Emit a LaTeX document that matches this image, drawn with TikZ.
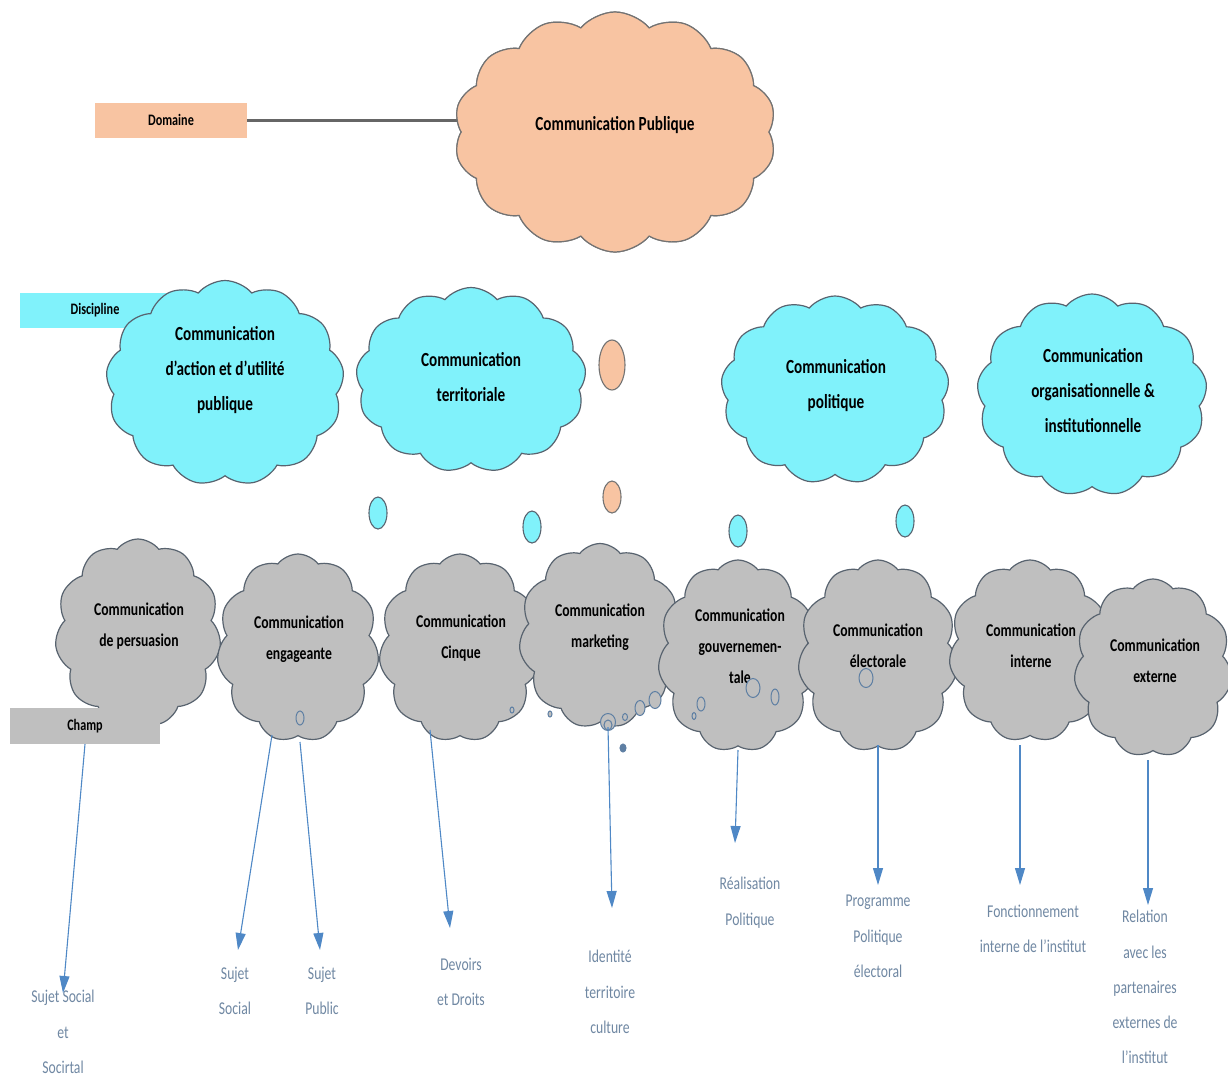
\documentclass[tikz,border=0pt]{standalone}
\usepackage{fontspec}
\setmainfont{Carlito}
\newfontfamily\narrow[FakeStretch=0.76]{Carlito}
\usetikzlibrary{shapes.symbols,shapes.geometric,arrows.meta}

\definecolor{peach}{HTML}{F8C4A2}
\definecolor{cyanfill}{HTML}{80F2FB}
\definecolor{grayfill}{HTML}{BFBFBF}
\definecolor{edge}{HTML}{58636F}
\definecolor{peachedge}{HTML}{737373}
\definecolor{linkgray}{HTML}{666666}
\definecolor{arrowblue}{HTML}{4F88C6}
\definecolor{labelblue}{HTML}{7088A3}
\definecolor{bubbleedge}{HTML}{5E7FA3}

\tikzset{
  puffy/.style={cloud, cloud puffs=13, cloud puff arc=100, cloud ignores aspect,
    draw=edge, line width=1.2pt, inner sep=0pt},
  domaincloud/.style={puffy, cloud puffs=14, fill=peach, draw=peachedge},
  disccloud/.style={puffy, fill=cyanfill},
  fieldcloud/.style={puffy, cloud puffs=11, cloud puff arc=105, fill=grayfill},
  disctext/.style={align=center, inner sep=0pt, text=black,
    font=\narrow\bfseries\fontsize{20}{35}\selectfont},
  fieldtext/.style={align=center, inner sep=0pt, text=black,
    font=\narrow\bfseries\fontsize{18}{31}\selectfont},
  tagbox/.style={rectangle, inner sep=0pt, text=black,
    font=\narrow\bfseries\fontsize{16}{18}\selectfont},
  subject/.style={align=center, inner sep=0pt, anchor=north, text=labelblue,
    font=\narrow\fontsize{18}{35.3}\selectfont},
  arr/.style={draw=arrowblue, line width=1.1pt,
    -{Triangle[length=17pt,width=10pt]}},
  bubble/.style={ellipse, draw=edge, line width=1.1pt, inner sep=0pt},
  dot/.style={ellipse, draw=bubbleedge, fill=grayfill, line width=1pt, inner sep=0pt}
}

\begin{document}
\begin{tikzpicture}[x=1pt,y=-1pt]
\useasboundingbox[fill=white] (0,0) rectangle (1228,1080);

% ---------- domain ----------
\node[tagbox, fill=peach, minimum width=152pt, minimum height=35pt] (dom) at (171,120) {Domaine};
\node[domaincloud, minimum width=322pt, minimum height=240pt] (pub) at (615,132) {};
\draw[linkgray, line width=3pt] (dom.east) -- (dom.east -| pub.west);
\node[domaincloud, minimum width=322pt, minimum height=240pt] at (pub.center) {};
\node[disctext] (pubt) at (615,125) {Communication Publique};

\node[bubble, fill=peach, draw=peachedge, minimum width=26pt, minimum height=50pt] (p1) at (612,365) {};
\node[bubble, fill=peach, draw=peachedge, minimum width=18pt, minimum height=32pt] (p2) at (612,497) {};

% ---------- disciplines ----------
\node[tagbox, fill=cyanfill, minimum width=150pt, minimum height=35pt] (disc) at (95,310) {Discipline};

\node[disccloud, minimum width=238pt, minimum height=205pt] (c1) at (225,383) {};
\node[disctext] (c1t) at (225,370) {Communication\\d’action et d’utilité\\publique};

\node[disccloud, minimum width=230pt, minimum height=185pt] (c2) at (471,380) {};
\node[disctext] (c2t) at (471,377) {Communication\\territoriale};

\node[disccloud, minimum width=228pt, minimum height=188pt] (c3) at (835,390) {};
\node[disctext] (c3t) at (836,386) {Communication\\politique};

\node[disccloud, minimum width=230pt, minimum height=202pt] (c4) at (1092,395) {};
\node[disctext] (c4t) at (1093,391) {Communication\\organisationnelle \&\\institutionnelle};

\node[bubble, fill=cyanfill, minimum width=18pt, minimum height=32pt] (b1) at (378,513) {};
\node[bubble, fill=cyanfill, minimum width=18pt, minimum height=32pt] (b2) at (532,527) {};
\node[bubble, fill=cyanfill, minimum width=18pt, minimum height=32pt] (b3) at (738,531) {};
\node[bubble, fill=cyanfill, minimum width=18pt, minimum height=32pt] (b4) at (905,521) {};

% ---------- fields ----------
\node[fieldcloud, minimum width=166pt, minimum height=188pt] (g1) at (138,633) {};
\node[fieldtext] (g1t) at (139,626) {Communication\\de persuasion};

\node[fieldcloud, minimum width=162pt, minimum height=188pt] (g2) at (298,648) {};
\node[fieldtext] (g2t) at (299,639) {Communication\\engageante};

\node[fieldcloud, minimum width=162pt, minimum height=188pt] (g3) at (460,648) {};
\node[fieldtext] (g3t) at (461,638) {Communication\\Cinque};

\node[fieldcloud, minimum width=162pt, minimum height=185pt] (g4) at (600,636) {};
\node[fieldtext] (g4t) at (600,627) {Communication\\marketing};

\node[fieldcloud, minimum width=160pt, minimum height=192pt] (g5) at (738,656) {};
\node[fieldtext] (g5t) at (740,646) {Communication\\gouvernemen-\\tale};

\node[fieldcloud, minimum width=160pt, minimum height=192pt] (g6) at (878,656) {};
\node[fieldtext] (g6t) at (878,646) {Communication\\électorale};

\node[fieldcloud, minimum width=162pt, minimum height=182pt] (g7) at (1030,651) {};
\node[fieldtext] (g7t) at (1031,646) {Communication\\interne};

\node[fieldcloud, minimum width=158pt, minimum height=178pt] (g8) at (1153,668) {};
\node[fieldtext] (g8t) at (1155,661) {Communication\\externe};

% little rings left along the lower edges
\node[dot, minimum width=8pt, minimum height=14pt] (d1) at (300,718) {};
\node[dot, minimum width=4pt, minimum height=6pt] (d2) at (512,710) {};
\node[dot, minimum width=4pt, minimum height=6pt] (d3) at (550,714) {};
\node[dot, minimum width=15pt, minimum height=17pt] (d4) at (608,722) {};
\node[dot, minimum width=8pt, minimum height=10pt] (d5) at (608,725) {};
\node[dot, minimum width=5pt, minimum height=7pt] (d6) at (625,717) {};
\node[dot, minimum width=10pt, minimum height=15pt] (d7) at (640,708) {};
\node[dot, minimum width=12pt, minimum height=17pt] (d8) at (655,700) {};
\node[dot, fill=bubbleedge, minimum width=6pt, minimum height=8pt] (d9) at (623,748) {};
\node[dot, minimum width=8pt, minimum height=14pt] (d10) at (701,704) {};
\node[dot, minimum width=4pt, minimum height=7pt] (d11) at (694,716) {};
\node[dot, minimum width=14pt, minimum height=19pt] (d12) at (753,688) {};
\node[dot, minimum width=8pt, minimum height=16pt] (d13) at (775,697) {};
\node[dot, minimum width=14pt, minimum height=19pt] (d14) at (866,678) {};

\node[tagbox, fill=grayfill, minimum width=150pt, minimum height=36pt] (champ) at (85,726) {Champ};

% ---------- subjects ----------
\node[subject] (l1) at (63,990) {Sujet Social\\et\\Socirtal};
\node[subject] (l2) at (235,967) {Sujet\\Social};
\node[subject] (l3) at (322,967) {Sujet\\Public};
\node[subject] (l4) at (461,958) {Devoirs\\et Droits};
\node[subject] (l5) at (610,950) {Identité\\territoire\\culture};
\node[subject] (l6) at (750,877) {Réalisation\\Politique};
\node[subject] (l7) at (878,895) {Programme\\Politique\\électoral};
\node[subject] (l8) at (1033,905) {Fonctionnement\\interne de l’institut};
\node[subject] (l9) at (1145,910) {Relation\\avec les\\partenaires\\externes de\\l’institut};

% ---------- arrows ----------
\coordinate (s2) at (272,735);
\coordinate (s3) at (300,742);
\coordinate (s4) at (430,730);
\coordinate (s5) at (608,727);
\coordinate (s6) at (738,750);
\coordinate (s7) at (878,745);
\coordinate (s8) at (1020,745);
\coordinate (s9) at (1148,760);

\draw[arr] (champ.south) -- ([yshift=-3pt]l1.north);
\draw[arr] (s2) -- ([xshift=3pt,yshift=17pt]l2.north);
\draw[arr] (s3) -- ([xshift=-2pt,yshift=17pt]l3.north);
\draw[arr] (s4) -- ([xshift=-11pt,yshift=30pt]l4.north);
\draw[arr] (s5) -- ([xshift=2pt,yshift=42pt]l5.north);
\draw[arr] (s6) -- ([xshift=-15pt,yshift=34pt]l6.north);
\draw[arr] (s7) -- ([yshift=10pt]l7.north);
\draw[arr] (s8) -- ([xshift=-13pt,yshift=20pt]l8.north);
\draw[arr] (s9) -- ([xshift=3pt,yshift=5pt]l9.north);
\end{tikzpicture}
\end{document}
